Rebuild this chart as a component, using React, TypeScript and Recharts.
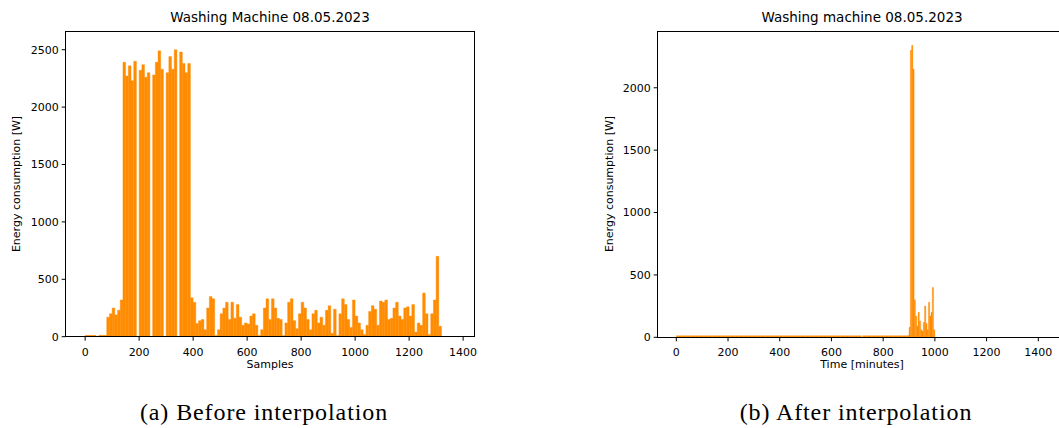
import React from 'react';
import { BarChart, Bar, XAxis, YAxis } from 'recharts';

// left plot: raw samples, one value per 10 samples
const SAMPLE_STEP = 10;
const rawPower = [
  12, 12, 12, 12, 0, 12, 12, 12, 170, 200,
  250, 190, 230, 320, 2390, 2270, 2360, 2230, 2400, 0,
  2320, 2370, 2260, 2300, 0, 2280, 2390, 2490, 2330, 0,
  2300, 2440, 2330, 2500, 0, 2480, 2380, 2300, 2380, 340,
  300, 115, 140, 150, 60, 250, 350, 330, 10, 60,
  200, 250, 300, 150, 300, 160, 280, 170, 100, 120,
  110, 180, 200, 100, 10, 60, 250, 330, 150, 330,
  250, 160, 150, 10, 120, 300, 330, 140, 70, 200,
  300, 250, 150, 60, 200, 230, 120, 170, 100, 230,
  270, 30, 240, 10, 200, 330, 280, 150, 80, 320,
  180, 120, 60, 20, 100, 220, 270, 240, 100, 310,
  300, 320, 150, 160, 250, 300, 180, 150, 250, 260,
  180, 280, 40, 120, 100, 380, 200, 20, 200, 320,
  700, 90,
];

// right plot: interpolated, one value per 5 minutes (0 .. 995)
const MINUTE_STEP = 5;
const interpPower = [
  12, 12, 12, 12, 12, 12, 12, 12, 12, 12, 12, 12, 12, 12, 12, 12, 12, 12, 12, 12,
  12, 12, 12, 12, 12, 12, 12, 12, 12, 12, 12, 12, 12, 12, 12, 12, 12, 12, 12, 12,
  12, 12, 12, 12, 12, 12, 12, 12, 12, 12, 12, 12, 12, 12, 12, 12, 12, 12, 12, 12,
  12, 12, 12, 12, 12, 12, 12, 12, 12, 12, 12, 12, 12, 12, 12, 12, 12, 12, 12, 12,
  12, 12, 12, 12, 12, 12, 12, 12, 12, 12, 12, 12, 12, 12, 12, 12, 12, 12, 12, 12,
  12, 12, 12, 12, 12, 12, 12, 12, 12, 12, 12, 12, 12, 12, 12, 12, 12, 12, 12, 12,
  12, 12, 12, 12, 12, 12, 12, 12, 12, 12, 12, 12, 12, 12, 12, 12, 12, 12, 12, 12,
  12, 12, 12, 0, 12, 12, 12, 12, 12, 12, 12, 12, 12, 12, 12, 12, 12, 12, 12, 12,
  12, 12, 12, 12, 12, 12, 12, 12, 12, 12, 12, 12, 12, 12, 12, 12, 12, 12, 12, 15,
  80, 2300, 2340, 2150, 300, 170, 90, 200, 130, 60,
  50, 120, 250, 110, 60, 280, 170, 200, 400, 60,
];

const xTicks = [0, 200, 400, 600, 800, 1000, 1200, 1400];
const leftYTicks = [0, 500, 1000, 1500, 2000, 2500];
const rightYTicks = [0, 500, 1000, 1500, 2000];

const ORANGE = '#ff8c00';
const tickStyle = { fontSize: 11, fill: '#000', fontFamily: 'DejaVu Sans' };

const leftData = rawPower.map((v, i) => ({ x: i * SAMPLE_STEP + SAMPLE_STEP / 2, v }));
const rightData = interpPower.map((v, i) => ({ x: i * MINUTE_STEP + MINUTE_STEP / 2, v }));

const abs = (left: number, top: number, extra: React.CSSProperties = {}): React.CSSProperties => ({
  position: 'absolute',
  left,
  top,
  ...extra,
});

const Frame = ({ left, top, width, height }: { left: number; top: number; width: number; height: number }) => (
  <div style={abs(left, top, { width, height, border: '1px solid #000', boxSizing: 'border-box', pointerEvents: 'none' })} />
);

const YLabel = ({ cx, cy }: { cx: number; cy: number }) => (
  <div style={abs(cx - 100, cy - 7, { width: 200, height: 14, lineHeight: '14px', fontSize: 11, textAlign: 'center', transform: 'rotate(-90deg)' })}>
    Energy consumption [W]
  </div>
);

const CenterText = ({ cx, top, size, text, family, spacing }: { cx: number; top: number; size: number; text: string; family?: string; spacing?: number }) => (
  <div style={abs(cx - 200, top, { width: 400, textAlign: 'center', fontSize: size, lineHeight: `${size + 4}px`, fontFamily: family, letterSpacing: spacing })}>
    {text}
  </div>
);

export default function App() {
  return (
    <div style={{ position: 'absolute', left: 0, top: 0, width: 1059, height: 428, overflow: 'hidden', background: '#fff', fontFamily: 'DejaVu Sans', color: '#000' }}>
      <div style={abs(0, 0)}>
        <BarChart width={490} height={380} data={leftData} barCategoryGap={0} barGap={0}
          margin={{ top: 31, right: 15, bottom: 13.3, left: 20.7 }}>
          <XAxis dataKey="x" type="number" domain={[-72, 1444]} allowDataOverflow ticks={xTicks} interval={0}
            axisLine={false} tickSize={4} tickMargin={7} tick={tickStyle} tickLine={{ stroke: '#000' }} height={30} />
          <YAxis type="number" domain={[0, 2663]} allowDataOverflow ticks={leftYTicks} interval={0}
            axisLine={false} tickSize={4} tickMargin={3} tick={tickStyle} tickLine={{ stroke: '#000' }} width={45} />
          <Bar dataKey="v" fill={ORANGE} stroke={ORANGE} strokeWidth={0.4} barSize={2.68} isAnimationActive={false} />
        </BarChart>
      </div>
      <Frame left={65.2} top={30.5} width={410.3} height={306.7} />
      <CenterText cx={270} top={9} size={13.5} text="Washing Machine 08.05.2023" />
      <YLabel cx={17} cy={184} />
      <CenterText cx={270} top={357} size={11} text="Samples" />
      <CenterText cx={264} top={398} size={24} spacing={0.9} text="(a) Before interpolation" family="Liberation Serif" />

      <div style={abs(590, 0)}>
        <BarChart width={490} height={380} data={rightData} barCategoryGap={0} barGap={0}
          margin={{ top: 31, right: 13, bottom: 12.7, left: 22.7 }}>
          <XAxis dataKey="x" type="number" domain={[-72, 1511]} allowDataOverflow ticks={xTicks} interval={0}
            axisLine={false} tickSize={4} tickMargin={7} tick={tickStyle} tickLine={{ stroke: '#000' }} height={30} />
          <YAxis type="number" domain={[0, 2455]} allowDataOverflow ticks={rightYTicks} interval={0}
            axisLine={false} tickSize={4} tickMargin={3} tick={tickStyle} tickLine={{ stroke: '#000' }} width={45} />
          <Bar dataKey="v" fill={ORANGE} stroke={ORANGE} strokeWidth={0.3} barSize={1.28} isAnimationActive={false} />
        </BarChart>
      </div>
      <Frame left={657.2} top={30.5} width={410.3} height={307.3} />
      <CenterText cx={862} top={9} size={13.5} text="Washing machine 08.05.2023" />
      <YLabel cx={610} cy={184} />
      <CenterText cx={862} top={357} size={11} text="Time [minutes]" />
      <CenterText cx={856} top={398} size={24} spacing={0.9} text="(b) After interpolation" family="Liberation Serif" />
    </div>
  );
}
